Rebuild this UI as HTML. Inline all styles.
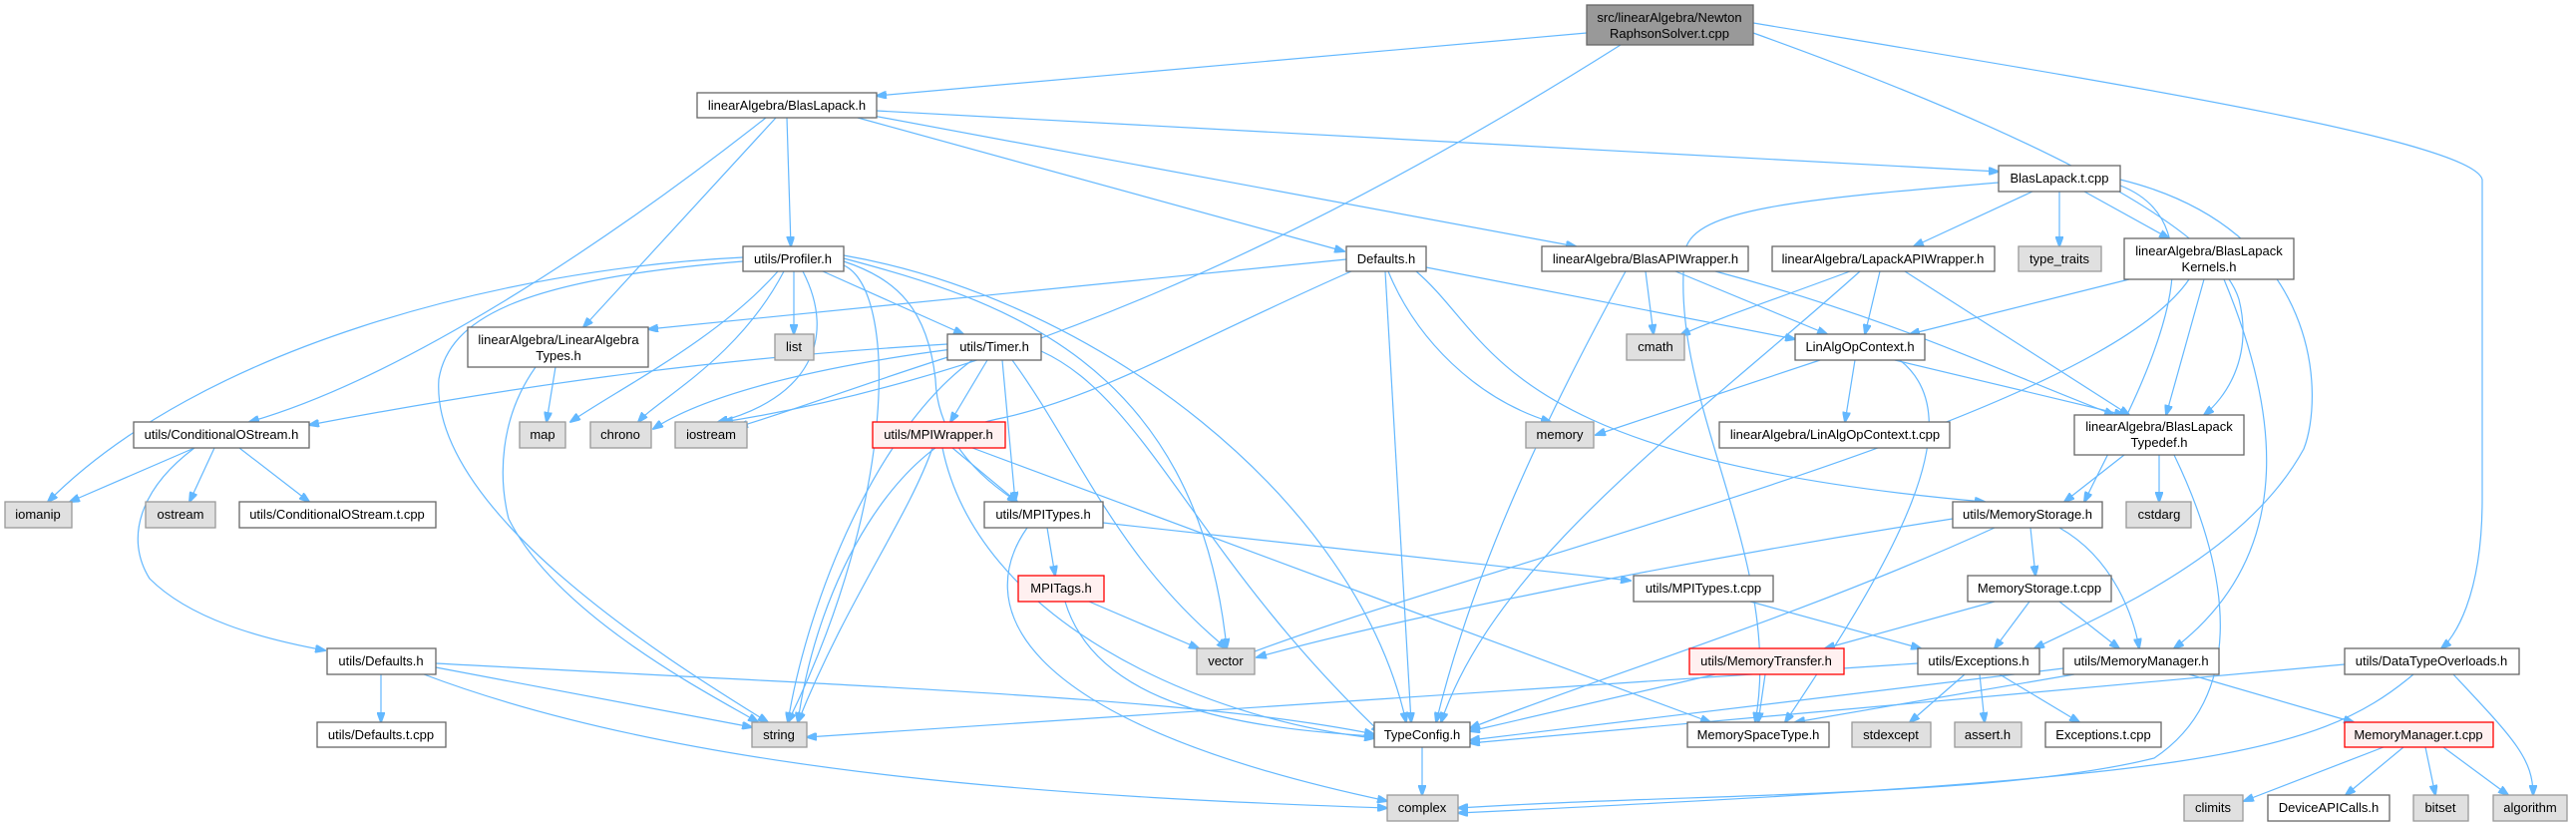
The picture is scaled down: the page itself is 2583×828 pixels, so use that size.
<!DOCTYPE html>
<html><head><meta charset="utf-8"><style>
html,body{margin:0;padding:0;background:#fff;}
svg{display:block;}
text{font-family:"Liberation Sans",Arial,sans-serif;font-size:13px;fill:#000;text-anchor:middle;}
.n{fill:#fff;stroke:#666;stroke-width:1.3;}
.g{fill:#e0e0e0;stroke:#999;stroke-width:1.3;}
.r{fill:#fff0f0;stroke:#ff0000;stroke-width:1.3;}
.root{fill:#999;stroke:#666;stroke-width:1.3;}
path{fill:none;stroke:#63b8ff;stroke-width:1.2;marker-end:url(#a);}
</style></head><body>
<svg width="2583" height="828" viewBox="0 0 2583 828" xmlns="http://www.w3.org/2000/svg">
<defs><marker id="a" markerWidth="11" markerHeight="8" refX="10" refY="4" orient="auto" markerUnits="userSpaceOnUse"><path d="M0,0 L11,4 L0,8 z" style="fill:#63b8ff;stroke:#63b8ff;marker-end:none"/></marker></defs>
<g>
<path d="M1591,33 L879,96"/>
<path d="M1625,45 C1300,250 1000,380 725,423"/>
<path d="M1758,33 C2000,120 2220,220 2245,300 C2260,360 2230,400 2210,416"/>
<path d="M1758,23 C2100,80 2480,140 2489,180 L2489,500 C2489,600 2460,640 2448,650"/>
<path d="M768,118 C600,250 400,380 250,423"/>
<path d="M778,118 L585,328"/>
<path d="M789,118 L793,247"/>
<path d="M860,118 L1348,252"/>
<path d="M870,115 L1580,247"/>
<path d="M879,111 L2004,172"/>
<path d="M745,258 C500,270 200,350 48,503"/>
<path d="M745,262 C520,280 450,320 440,380 C430,520 700,680 770,724"/>
<path d="M780,272 C720,340 620,390 572,423"/>
<path d="M786,272 C740,360 660,400 640,423"/>
<path d="M796,272 L796,335"/>
<path d="M805,272 C840,340 810,400 720,423"/>
<path d="M825,272 L966,335"/>
<path d="M846,262 C900,280 930,310 938,380 C940,450 1000,490 1020,503"/>
<path d="M846,259 C1000,300 1200,360 1230,650"/>
<path d="M846,256 C1100,300 1360,500 1410,724"/>
<path d="M846,266 C900,290 900,500 790,724"/>
<path d="M557,368 L548,423"/>
<path d="M537,368 C500,420 500,480 510,520 C560,620 720,700 760,724"/>
<path d="M950,345 C700,360 500,390 310,426"/>
<path d="M955,350 C800,370 700,400 655,430"/>
<path d="M960,355 C880,380 800,410 740,428"/>
<path d="M990,361 L953,423"/>
<path d="M1005,361 L1018,503"/>
<path d="M1015,361 C1080,450 1120,560 1230,650"/>
<path d="M1044,352 C1150,400 1200,560 1385,735"/>
<path d="M975,361 C880,430 810,600 790,724"/>
<path d="M1350,260 L650,330"/>
<path d="M1355,272 C1200,340 1100,400 1000,420 C900,440 820,580 800,724"/>
<path d="M1389,272 L1415,724"/>
<path d="M1392,272 C1420,340 1480,400 1555,423"/>
<path d="M1420,272 C1500,340 1500,460 1990,503"/>
<path d="M1430,268 L1800,340"/>
<path d="M1650,272 L1658,335"/>
<path d="M1630,272 C1560,400 1480,560 1440,724"/>
<path d="M1680,272 L1832,335"/>
<path d="M1720,272 C1900,320 2000,370 2120,416"/>
<path d="M2038,192 L1919,247"/>
<path d="M2065,192 L2065,247"/>
<path d="M2090,192 L2175,239"/>
<path d="M2004,183 C1800,200 1700,210 1690,250 C1670,400 1790,560 1760,724"/>
<path d="M2126,180 C2330,230 2330,400 2310,450 C2250,560 2100,620 2040,650"/>
<path d="M2126,186 C2240,230 2140,400 2090,503"/>
<path d="M1855,272 C1780,300 1720,320 1685,336"/>
<path d="M1885,272 L1870,335"/>
<path d="M1910,272 L2135,416"/>
<path d="M1865,272 C1700,420 1500,560 1445,724"/>
<path d="M2135,280 L1915,335"/>
<path d="M2210,280 L2172,416"/>
<path d="M2195,280 C2100,420 1500,560 1245,658"/>
<path d="M2230,280 C2280,400 2310,550 2180,650"/>
<path d="M1825,361 L1600,436"/>
<path d="M1860,361 L1850,423"/>
<path d="M1900,361 L2130,416"/>
<path d="M1905,361 C1980,420 1900,560 1790,724"/>
<path d="M2130,456 L2070,503"/>
<path d="M2165,456 L2165,503"/>
<path d="M2180,456 C2240,580 2250,700 2160,760 C2000,800 1700,795 1462,810"/>
<path d="M195,449 L70,503"/>
<path d="M215,449 L190,503"/>
<path d="M240,449 L310,503"/>
<path d="M195,449 C140,490 125,540 150,580 C190,620 260,640 326,652"/>
<path d="M382,676 L382,724"/>
<path d="M437,669 L754,729"/>
<path d="M437,665 C900,690 1200,700 1378,736"/>
<path d="M425,676 C700,780 1100,800 1391,810"/>
<path d="M935,449 C910,520 850,600 800,724"/>
<path d="M955,449 L1020,503"/>
<path d="M945,449 C980,620 1200,720 1378,740"/>
<path d="M975,449 L1715,724"/>
<path d="M1050,529 L1058,577"/>
<path d="M1106,524 L1635,582"/>
<path d="M1030,529 C980,600 1000,720 1391,803"/>
<path d="M1092,603 L1202,650"/>
<path d="M1068,603 C1100,710 1250,730 1378,738"/>
<path d="M1755,603 L1926,650"/>
<path d="M2036,529 L2041,577"/>
<path d="M2065,529 C2120,560 2140,620 2145,650"/>
<path d="M1958,520 C1700,560 1400,620 1260,659"/>
<path d="M2000,529 C1800,620 1600,680 1474,730"/>
<path d="M2000,603 L1830,650"/>
<path d="M2035,603 L2000,650"/>
<path d="M2065,603 L2125,650"/>
<path d="M1770,676 L1763,724"/>
<path d="M1720,676 L1474,733"/>
<path d="M1923,665 L809,739"/>
<path d="M1970,676 L1915,724"/>
<path d="M1985,676 L1990,724"/>
<path d="M2005,676 L2085,724"/>
<path d="M2080,676 L1800,724"/>
<path d="M2069,670 L1474,742"/>
<path d="M2195,676 L2360,724"/>
<path d="M2351,666 L1474,745"/>
<path d="M2420,676 C2320,760 2200,780 1462,815"/>
<path d="M2460,676 C2520,740 2540,760 2540,797"/>
<path d="M2390,749 L2250,803"/>
<path d="M2410,749 L2352,797"/>
<path d="M2432,749 L2442,797"/>
<path d="M2450,749 L2515,797"/>
<path d="M1426,749 L1426,797"/>
</g>
<rect class="root" x="1591" y="5" width="167" height="40"/><text x="1674" y="22">src/linearAlgebra/Newton</text><text x="1674" y="38">RaphsonSolver.t.cpp</text>
<rect class="n" x="699" y="93" width="180" height="25"/><text x="789" y="110">linearAlgebra/BlasLapack.h</text>
<rect class="n" x="745" y="247" width="101" height="25"/><text x="795" y="264">utils/Profiler.h</text>
<rect class="n" x="469" y="328" width="181" height="40"/><text x="560" y="345">linearAlgebra/LinearAlgebra</text><text x="560" y="361">Types.h</text>
<rect class="g" x="777" y="335" width="39" height="26"/><text x="796" y="352">list</text>
<rect class="n" x="1350" y="247" width="80" height="25"/><text x="1390" y="264">Defaults.h</text>
<rect class="n" x="1546" y="247" width="207" height="25"/><text x="1650" y="264">linearAlgebra/BlasAPIWrapper.h</text>
<rect class="n" x="950" y="335" width="94" height="26"/><text x="997" y="352">utils/Timer.h</text>
<rect class="g" x="1631" y="335" width="58" height="26"/><text x="1660" y="352">cmath</text>
<rect class="n" x="2004" y="166" width="122" height="26"/><text x="2065" y="183">BlasLapack.t.cpp</text>
<rect class="n" x="1777" y="247" width="223" height="25"/><text x="1888" y="264">linearAlgebra/LapackAPIWrapper.h</text>
<rect class="g" x="2024" y="247" width="83" height="25"/><text x="2065" y="264">type_traits</text>
<rect class="n" x="2130" y="239" width="170" height="41"/><text x="2215" y="256">linearAlgebra/BlasLapack</text><text x="2215" y="272">Kernels.h</text>
<rect class="n" x="1800" y="335" width="130" height="26"/><text x="1865" y="352">LinAlgOpContext.h</text>
<rect class="n" x="134" y="423" width="176" height="26"/><text x="222" y="440">utils/ConditionalOStream.h</text>
<rect class="g" x="5" y="503" width="67" height="26"/><text x="38" y="520">iomanip</text>
<rect class="g" x="146" y="503" width="70" height="26"/><text x="181" y="520">ostream</text>
<rect class="n" x="240" y="503" width="197" height="26"/><text x="338" y="520">utils/ConditionalOStream.t.cpp</text>
<rect class="n" x="328" y="650" width="109" height="26"/><text x="382" y="667">utils/Defaults.h</text>
<rect class="n" x="318" y="724" width="129" height="25"/><text x="382" y="741">utils/Defaults.t.cpp</text>
<rect class="g" x="754" y="724" width="55" height="25"/><text x="781" y="741">string</text>
<rect class="g" x="521" y="423" width="46" height="26"/><text x="544" y="440">map</text>
<rect class="g" x="592" y="423" width="61" height="26"/><text x="622" y="440">chrono</text>
<rect class="g" x="677" y="423" width="72" height="26"/><text x="713" y="440">iostream</text>
<rect class="r" x="875" y="423" width="133" height="26"/><text x="941" y="440">utils/MPIWrapper.h</text>
<rect class="n" x="987" y="503" width="119" height="26"/><text x="1046" y="520">utils/MPITypes.h</text>
<rect class="r" x="1021" y="577" width="86" height="26"/><text x="1064" y="594">MPITags.h</text>
<rect class="g" x="1200" y="650" width="58" height="26"/><text x="1229" y="667">vector</text>
<rect class="n" x="1378" y="724" width="96" height="25"/><text x="1426" y="741">TypeConfig.h</text>
<rect class="g" x="1391" y="797" width="71" height="26"/><text x="1426" y="814">complex</text>
<rect class="g" x="1530" y="423" width="68" height="26"/><text x="1564" y="440">memory</text>
<rect class="n" x="1638" y="577" width="140" height="26"/><text x="1708" y="594">utils/MPITypes.t.cpp</text>
<rect class="n" x="1724" y="423" width="231" height="26"/><text x="1840" y="440">linearAlgebra/LinAlgOpContext.t.cpp</text>
<rect class="n" x="2080" y="416" width="170" height="40"/><text x="2165" y="432">linearAlgebra/BlasLapack</text><text x="2165" y="448">Typedef.h</text>
<rect class="n" x="1958" y="503" width="150" height="26"/><text x="2033" y="520">utils/MemoryStorage.h</text>
<rect class="g" x="2132" y="503" width="65" height="26"/><text x="2165" y="520">cstdarg</text>
<rect class="n" x="1973" y="577" width="144" height="26"/><text x="2045" y="594">MemoryStorage.t.cpp</text>
<rect class="r" x="1694" y="650" width="155" height="26"/><text x="1771" y="667">utils/MemoryTransfer.h</text>
<rect class="n" x="1923" y="650" width="122" height="26"/><text x="1984" y="667">utils/Exceptions.h</text>
<rect class="n" x="2069" y="650" width="156" height="26"/><text x="2147" y="667">utils/MemoryManager.h</text>
<rect class="n" x="2351" y="650" width="175" height="26"/><text x="2438" y="667">utils/DataTypeOverloads.h</text>
<rect class="n" x="1692" y="724" width="142" height="25"/><text x="1763" y="741">MemorySpaceType.h</text>
<rect class="g" x="1857" y="724" width="79" height="25"/><text x="1896" y="741">stdexcept</text>
<rect class="g" x="1960" y="724" width="67" height="25"/><text x="1993" y="741">assert.h</text>
<rect class="n" x="2051" y="724" width="116" height="25"/><text x="2109" y="741">Exceptions.t.cpp</text>
<rect class="r" x="2351" y="724" width="149" height="25"/><text x="2425" y="741">MemoryManager.t.cpp</text>
<rect class="g" x="2190" y="797" width="59" height="26"/><text x="2219" y="814">climits</text>
<rect class="n" x="2274" y="797" width="122" height="26"/><text x="2335" y="814">DeviceAPICalls.h</text>
<rect class="g" x="2420" y="797" width="55" height="26"/><text x="2447" y="814">bitset</text>
<rect class="g" x="2500" y="797" width="74" height="26"/><text x="2537" y="814">algorithm</text>
</svg>
</body></html>
